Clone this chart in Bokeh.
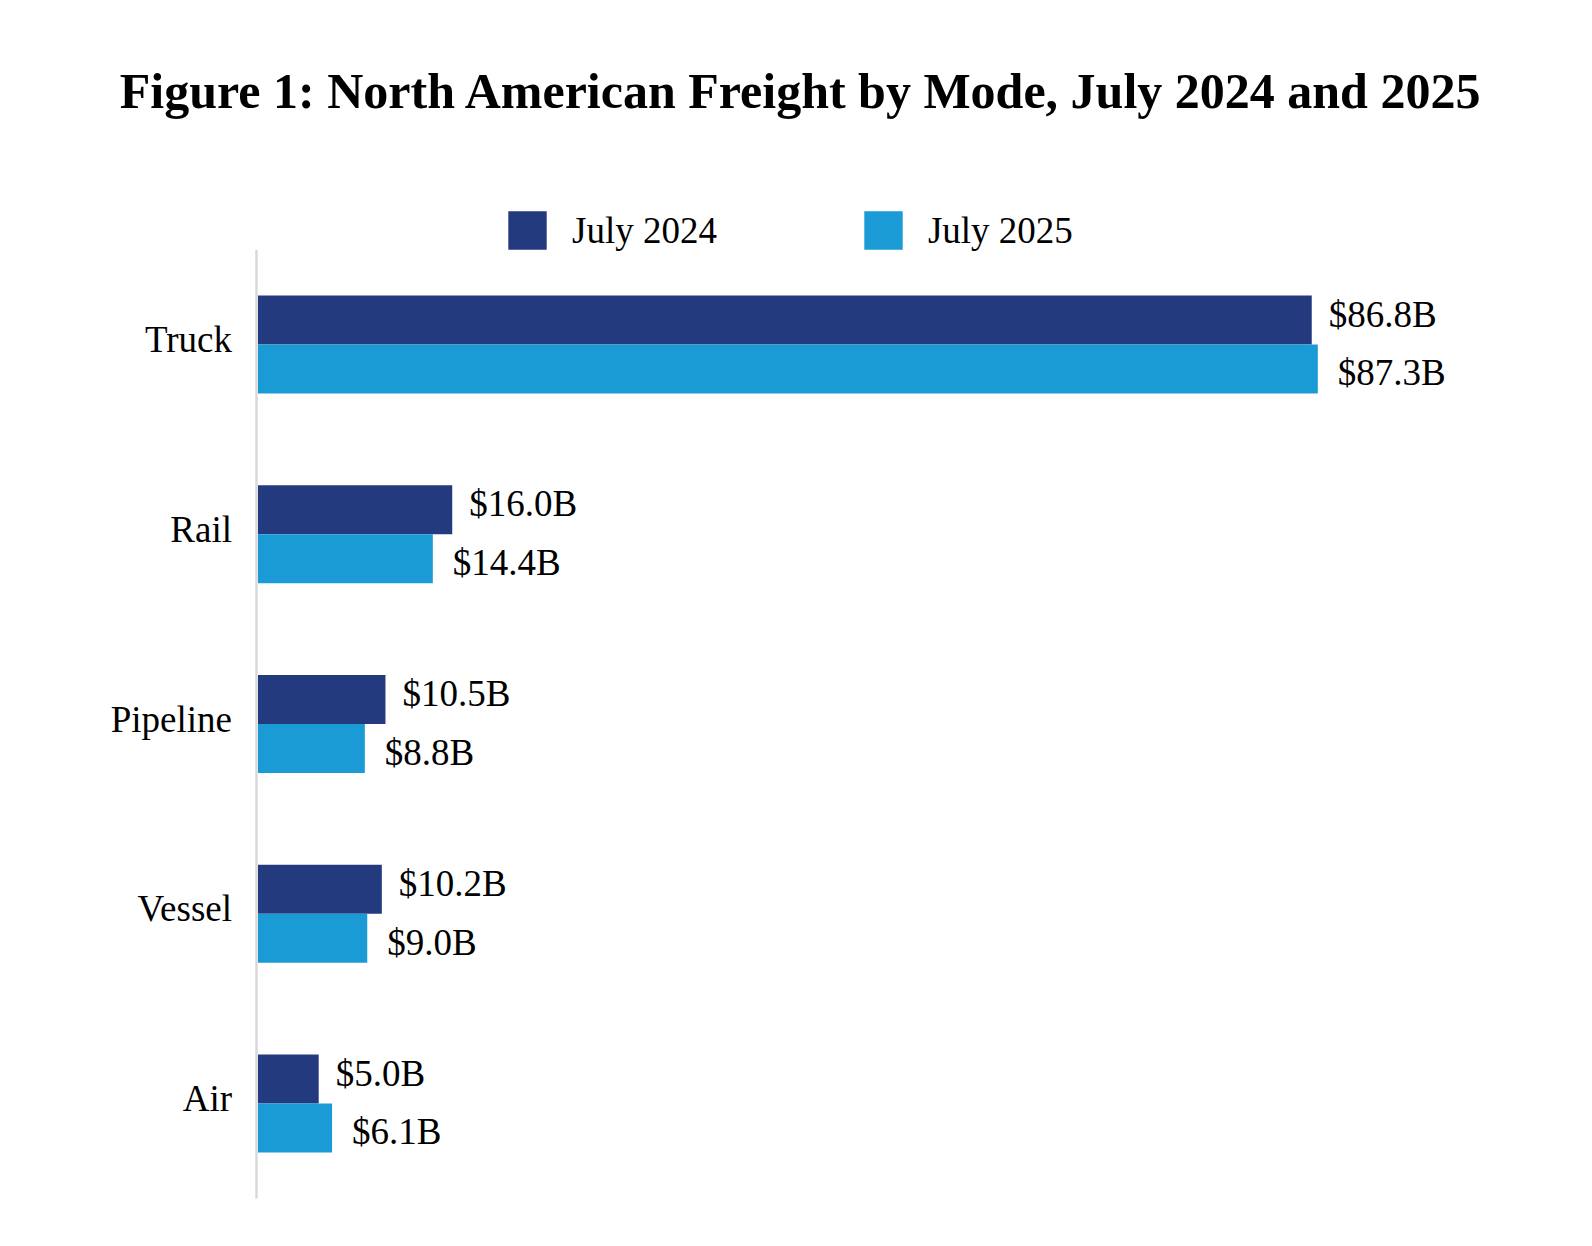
from bokeh.plotting import figure
from bokeh.models import ColumnDataSource, Legend, LegendItem, Label, Range1d
from bokeh.transform import dodge
from bokeh.core.properties import value
from bokeh.embed import file_html
from bokeh.resources import INLINE

# ---- data ----
modes = ["Truck", "Rail", "Pipeline", "Vessel", "Air"]
july_2024 = [86.8, 16.0, 10.5, 10.2, 5.0]
july_2025 = [87.3, 14.4, 8.8, 9.0, 6.1]
series_names = ["July 2024", "July 2025"]
title_text = "Figure 1: North American Freight by Mode, July 2024 and 2025"

DARK = "#243A7F"
LIGHT = "#1A9BD6"
AXIS_GREY = "#D9D9D9"
FONT = "Liberation Serif"

# ---- layout constants (pixels) ----
W, H = 1576, 1230
X0_PX, PX_PER_UNIT = 257.5, 12.14     # where value 0 sits, px per $B
Y0_PX, SLOT_PX = 344.0, 189.75        # centre of first category, category pitch
BAR_H = 0.258
DODGE = BAR_H / 2
AXIS_NUDGE = 1.5 / PX_PER_UNIT        # axis line sits just left of the bars

pos = list(range(len(modes)))
src = ColumnDataSource(dict(
    pos=pos,
    mode=modes,
    v24=july_2024,
    v25=july_2025,
    l24=[f"${v:.1f}B" for v in july_2024],
    l25=[f"${v:.1f}B" for v in july_2025],
))

p = figure(
    width=W, height=H,
    x_range=Range1d(-X0_PX / PX_PER_UNIT, (W - X0_PX) / PX_PER_UNIT),
    y_range=Range1d((H - Y0_PX) / SLOT_PX, -Y0_PX / SLOT_PX),
    x_axis_location=None, y_axis_location=None, title_location=None,
    output_backend="svg", toolbar_location=None,
    min_border_left=0, min_border_right=0, min_border_top=0, min_border_bottom=0,
)
p.outline_line_color = None
p.xgrid.visible = False
p.ygrid.visible = False
p.background_fill_color = "white"
p.border_fill_color = "white"

# category axis line
p.segment(x0=-AXIS_NUDGE, y0=-0.5, x1=-AXIS_NUDGE, y1=len(modes) - 0.5,
          line_color=AXIS_GREY, line_width=2.5)

r24 = p.hbar(y=dodge("pos", -DODGE), right="v24", left=0, height=BAR_H,
             source=src, fill_color=DARK, line_color=None)
r25 = p.hbar(y=dodge("pos", DODGE), right="v25", left=0, height=BAR_H,
             source=src, fill_color=LIGHT, line_color=None)

# value labels
p.text(x="v24", y=dodge("pos", -DODGE), text="l24", source=src,
       x_offset=17, y_offset=-6, text_align="left", text_baseline="middle",
       text_font=value(FONT), text_font_size="37px", text_color="black")
p.text(x="v25", y=dodge("pos", DODGE), text="l25", source=src,
       x_offset=20, y_offset=4, text_align="left", text_baseline="middle",
       text_font=value(FONT), text_font_size="37px", text_color="black")

# category labels
p.text(x=0, y="pos", text="mode", source=src,
       x_offset=-26, y_offset=-5, text_align="right", text_baseline="middle",
       text_font=value(FONT), text_font_size="37px", text_color="black")

legend = Legend(
    items=[LegendItem(label=series_names[0], renderers=[r24]),
           LegendItem(label=series_names[1], renderers=[r25])],
    orientation="horizontal",
    location=(503, H - 254),
    glyph_width=48, glyph_height=48,
    label_standoff=21, spacing=142,
    label_text_font=FONT, label_text_font_size="37px", label_text_color="black",
    label_height=48,
    padding=0, margin=0,
    border_line_color=None, background_fill_alpha=0,
)
p.add_layout(legend)

title = Label(x=801, y=H - 90, x_units="screen", y_units="screen", text=title_text,
              text_align="center", text_baseline="alphabetic",
              text_font=FONT, text_font_size="50px", text_font_style="bold",
              text_color="black")
p.add_layout(title)

open("out.html", "w").write(file_html(p, INLINE))
